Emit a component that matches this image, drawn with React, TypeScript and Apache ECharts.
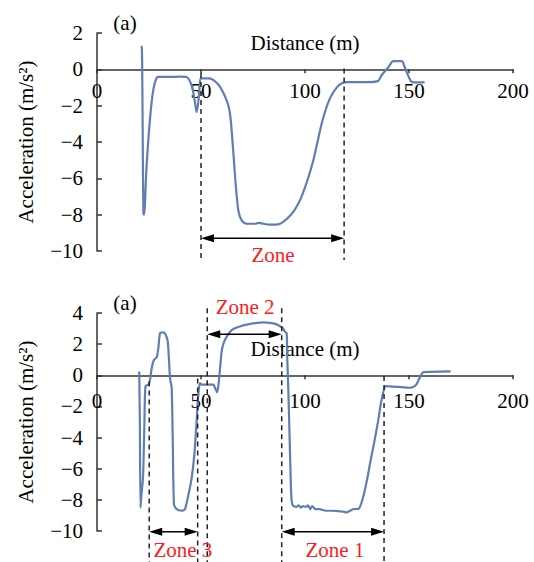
import React, { useEffect, useRef } from "react";
import * as echarts from "echarts";

// ---------- data ----------
const topDistance = [21.5, 21.7, 22.0, 22.3, 22.6, 23.8, 25.5, 27.1, 28.7, 30, 35, 40, 43.1, 45.5, 47.1, 47.9, 49.0, 49.8, 51.4, 54, 56, 59.1, 62.3, 63.9, 65.5, 66.8, 68, 69.5, 72, 76, 78, 80, 83, 86, 88, 90, 92, 94, 96, 98, 100, 102, 104, 106, 108, 110, 112, 114, 116, 118, 120, 125, 130, 135, 137, 140, 142.5, 146.5, 148, 150, 151.5, 157.5];
const topAccel = [1.3, 0.5, -4, -7.9, -8.0, -5.4, -2.7, -1.1, -0.46, -0.42, -0.42, -0.4, -0.42, -0.9, -1.8, -2.35, -1.5, -0.5, -0.5, -0.5, -0.6, -0.95, -1.7, -2.4, -4.5, -6.5, -7.8, -8.3, -8.5, -8.5, -8.45, -8.5, -8.55, -8.55, -8.5, -8.35, -8.15, -7.9, -7.55, -7.1, -6.5, -5.8, -5.0, -4.0, -3.0, -2.2, -1.6, -1.2, -0.9, -0.75, -0.7, -0.7, -0.7, -0.65, -0.3, 0.1, 0.45, 0.45, 0.1, -0.45, -0.7, -0.72];

const bottomDistance = [20.3, 20.6, 20.9, 21.4, 22.0, 22.3, 22.8, 23.3, 24.7, 25.5, 26.3, 27.4, 28.7, 29.5, 30.3, 32, 33, 34, 34.6, 35.1, 35.9, 36.4, 37.0, 38.3, 40.7, 42.3, 43.9, 45.5, 46.8, 47.9, 48.7, 49.5, 50.3, 55.9, 57, 57.8, 58.5, 59.2, 59.9, 60.7, 62, 64, 66, 69, 72, 76, 80, 84, 86.4, 88, 89.5, 90.3, 91.2, 91.5, 92, 92.6, 93.2, 93.6, 94.4, 96, 97, 98, 99, 100.5, 101.5, 102.5, 103.5, 105, 107, 110, 113, 116, 118, 120, 121, 123, 126, 128, 130, 131.5, 133, 135.2, 136.5, 138, 139, 145, 150, 152, 153.5, 155, 156.9, 160, 170];
const bottomAccel = [0.25, -3, -8.5, -7.6, -6.8, -5.9, -3.0, -0.7, -0.6, -0.3, 0.47, 1.0, 1.15, 1.75, 2.7, 2.75, 2.6, 2.2, 1.0, -0.17, -0.8, -4, -8.3, -8.6, -8.7, -8.6, -7.7, -6.6, -5.1, -2.95, -1.2, -0.5, -0.6, -0.6, -0.9, -1.1, -0.5, 0.5, 1.5, 2.0, 2.4, 2.8, 3.0, 3.15, 3.25, 3.35, 3.4, 3.35, 3.27, 3.15, 3.0, 2.8, 2.7, 1.0, -1.0, -4, -7, -8.1, -8.4, -8.45, -8.35, -8.5, -8.4, -8.45, -8.35, -8.6, -8.4, -8.6, -8.6, -8.7, -8.7, -8.72, -8.75, -8.8, -8.75, -8.6, -8.55, -7.8, -6.6, -5.5, -4.5, -2.9, -1.8, -0.9, -0.7, -0.75, -0.8, -0.75, -0.6, -0.2, 0.2, 0.22, 0.25];

// zone boundaries (distance, m)
const topZone = [50, 118.8];
const bottomZone3 = [25.1, 48.4];
const bottomZone2 = [53, 88.8];
const bottomZone1 = [88.8, 138];

const xTicks = { min: 0, max: 200, interval: 50 };
const topYTicks = { min: -10, max: 2, interval: 2 };
const bottomYTicks = { min: -10, max: 4, interval: 2 };

const FONT = "Liberation Serif";
const FS = 21;
const LINE_COLOR = "#5f7fb3";
const AXIS_COLOR = "#333";
const RED = "#ff1a1a";
const GRID_H = 218;

const fmt = (v: number) => (v < 0 ? "\u2212" + Math.abs(v) : String(v));

function makeX(gridIndex: number, yt: { min: number; max: number }, labelMargin: number) {
  // place the x axis on the y = 0 line (labels follow it)
  const offset = -((0 - yt.min) / (yt.max - yt.min)) * GRID_H;
  return {
    type: "value",
    gridIndex,
    ...xTicks,
    position: "bottom",
    offset,
    name: "Distance (m)",
    nameLocation: "middle",
    nameGap: -37,
    nameMoveOverlap: false,
    nameTextStyle: { fontFamily: FONT, fontSize: FS, color: "#000" },
    axisLine: { onZero: false, lineStyle: { color: AXIS_COLOR, width: 1.5 } },
    axisTick: { show: true, inside: false, length: 4, lineStyle: { color: AXIS_COLOR, width: 1.5 } },
    axisLabel: { fontFamily: FONT, fontSize: FS, color: "#000", margin: labelMargin, formatter: fmt, hideOverlap: false },
    splitLine: { show: false },
  };
}

function makeY(gridIndex: number, ticks: { min: number; max: number; interval: number }) {
  return {
    type: "value",
    gridIndex,
    ...ticks,
    name: "Acceleration (m/s\u00B2)",
    nameLocation: "middle",
    nameGap: 61,
    nameRotate: 90,
    nameMoveOverlap: false,
    nameTextStyle: { fontFamily: FONT, fontSize: FS, color: "#000" },
    axisLine: { show: true, onZero: false, lineStyle: { color: AXIS_COLOR, width: 1.5 } },
    axisTick: { show: true, inside: true, length: 5, lineStyle: { color: AXIS_COLOR, width: 1.5 } },
    axisLabel: { fontFamily: FONT, fontSize: FS, color: "#000", margin: 14, formatter: fmt },
    splitLine: { show: false },
  };
}

const zip = (xs: number[], ys: number[]) => xs.map((x, i) => [x, ys[i]]);

export default function App() {
  const ref = useRef<HTMLDivElement>(null);
  useEffect(() => {
    document.body.style.margin = "0";
    if (!ref.current) return;
    const chart = echarts.init(ref.current, null, { renderer: "svg" });
    chart.setOption({
      animation: false,
      backgroundColor: "#fff",
      textStyle: { fontFamily: FONT },
      grid: [
        { left: 97, top: 33, width: 416, height: GRID_H },
        { left: 97, top: 313, width: 416, height: GRID_H },
      ],
      xAxis: [makeX(0, topYTicks, 11), makeX(1, bottomYTicks, 15)],
      yAxis: [makeY(0, topYTicks), makeY(1, bottomYTicks)],
      series: [
        {
          type: "line",
          xAxisIndex: 0,
          yAxisIndex: 0,
          data: zip(topDistance, topAccel),
          showSymbol: false,
          smooth: 0.3,
          lineStyle: { color: LINE_COLOR, width: 2.2 },
          clip: false,
        },
        {
          type: "line",
          xAxisIndex: 1,
          yAxisIndex: 1,
          data: zip(bottomDistance, bottomAccel),
          showSymbol: false,
          smooth: 0.2,
          lineStyle: { color: LINE_COLOR, width: 2.2 },
          clip: false,
        },
      ],
    });

    const px = (g: number, x: number, y: number) =>
      chart.convertToPixel({ gridIndex: g } as any, [x, y]) as number[];

    const graphics: any[] = [];
    const dashed = (g: number, x: number, y1: number, y2: number) => {
      const a = px(g, x, y1);
      const b = px(g, x, y2);
      graphics.push({
        type: "line",
        shape: { x1: a[0], y1: a[1], x2: b[0], y2: b[1] },
        style: { stroke: "#222", lineWidth: 1.5, lineDash: [5, 4] },
        z: 10,
      });
    };
    const arrow = (g: number, xa: number, xb: number, y: number) => {
      const a = px(g, xa, y);
      const b = px(g, xb, y);
      const L = 13;
      const H = 4;
      graphics.push({
        type: "line",
        shape: { x1: a[0] + L - 1, y1: a[1], x2: b[0] - L + 1, y2: b[1] },
        style: { stroke: "#000", lineWidth: 1.5 },
        z: 10,
      });
      graphics.push({
        type: "polygon",
        shape: { points: [[a[0], a[1]], [a[0] + L, a[1] - H], [a[0] + L, a[1] + H]] },
        style: { fill: "#000" },
        z: 10,
      });
      graphics.push({
        type: "polygon",
        shape: { points: [[b[0], b[1]], [b[0] - L, b[1] - H], [b[0] - L, b[1] + H]] },
        style: { fill: "#000" },
        z: 10,
      });
    };
    const label = (g: number, text: string, x: number, y: number, color = RED) => {
      const p = px(g, x, y);
      graphics.push({
        type: "text",
        x: p[0],
        y: p[1],
        style: { text, fill: color, font: `${FS}px ${FONT}`, align: "center", verticalAlign: "middle" },
        z: 10,
      });
    };

    // top chart annotations
    dashed(0, topZone[0], -0.2, -10.5);
    dashed(0, topZone[1], 0.05, -10.5);
    arrow(0, topZone[0], topZone[1], -9.3);
    label(0, "Zone", 84.6, -10.2);

    // bottom chart annotations
    dashed(1, bottomZone3[0], -0.4, -12.2);
    dashed(1, bottomZone3[1], -0.2, -12.2);
    dashed(1, bottomZone2[0], 4.3, -12.2);
    dashed(1, bottomZone2[1], 4.3, -12.2);
    dashed(1, bottomZone1[1], -0.05, -12.2);
    arrow(1, bottomZone3[0], bottomZone3[1], -10.05);
    arrow(1, bottomZone2[0], bottomZone2[1], 2.63);
    arrow(1, bottomZone1[0], bottomZone1[1], -10.05);
    label(1, "Zone 2", 71.2, 4.4);
    label(1, "Zone 3", 41.3, -11.2);
    label(1, "Zone 1", 114.4, -11.2);

    graphics.push({
      type: "text",
      x: 125,
      y: 23,
      style: { text: "(a)", fill: "#000", font: `${FS}px ${FONT}`, align: "center", verticalAlign: "middle" },
    });
    graphics.push({
      type: "text",
      x: 125,
      y: 303,
      style: { text: "(a)", fill: "#000", font: `${FS}px ${FONT}`, align: "center", verticalAlign: "middle" },
    });

    chart.setOption({ graphic: graphics });
    return () => chart.dispose();
  }, []);
  return <div ref={ref} style={{ width: 534, height: 562 }} />;
}
